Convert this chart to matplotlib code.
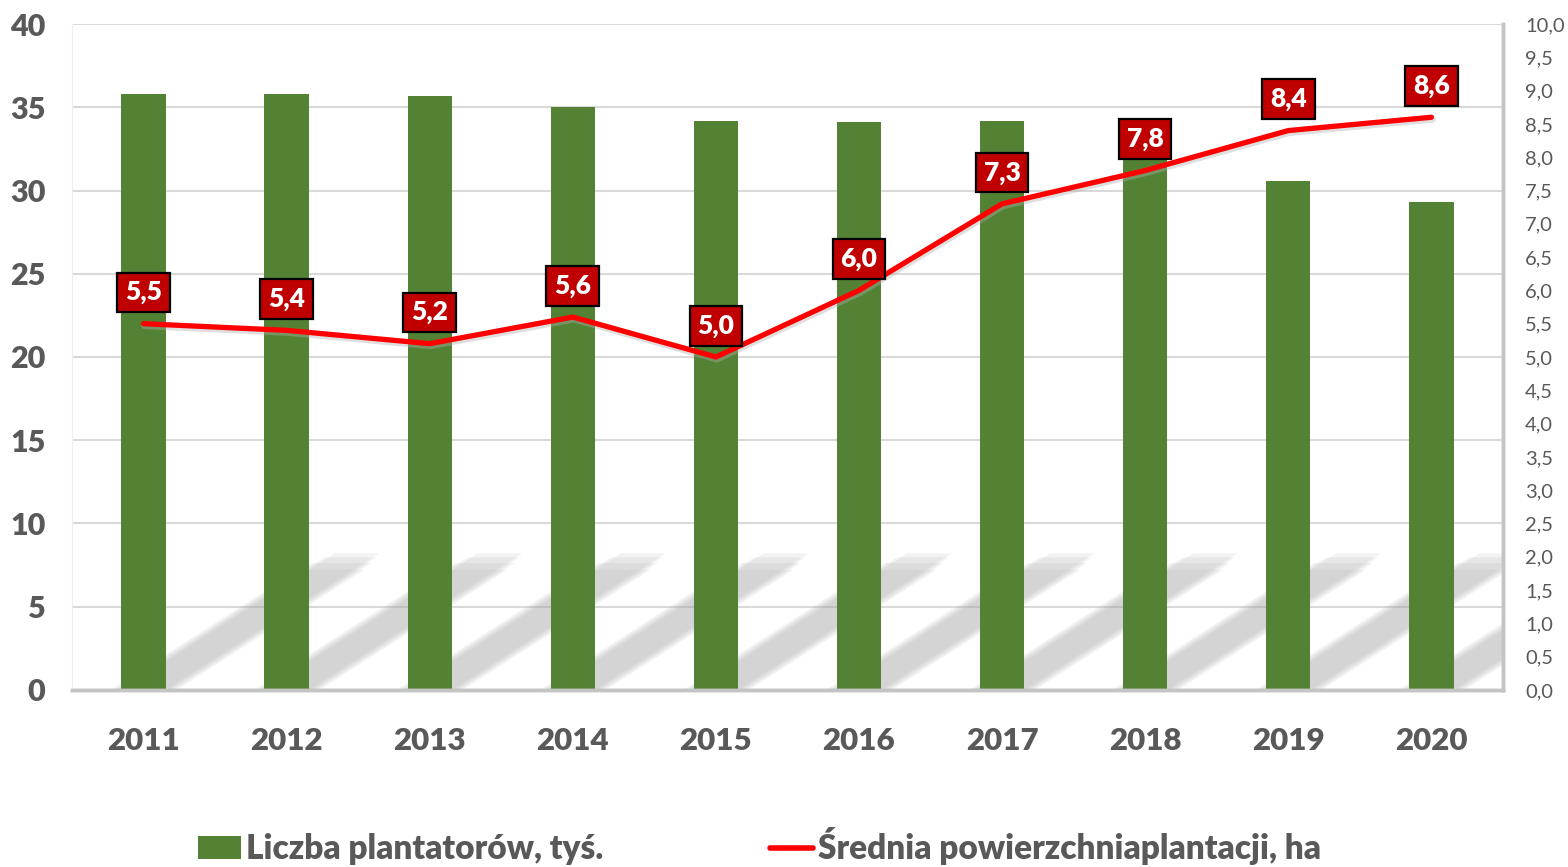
import numpy as np
import matplotlib.pyplot as plt
import matplotlib.transforms as mtransforms
from matplotlib.patches import Polygon, Patch
from matplotlib.lines import Line2D

plt.rcParams["font.family"] = ["Lato", "DejaVu Sans"]

# data
years = ["2011", "2012", "2013", "2014", "2015", "2016", "2017", "2018", "2019", "2020"]
growers = [35.8, 35.8, 35.7, 35.0, 34.2, 34.1, 34.2, 32.0, 30.6, 29.3]   # thousands
avg_area = [5.5, 5.4, 5.2, 5.6, 5.0, 6.0, 7.3, 7.8, 8.4, 8.6]          # ha

GREEN = "#548235"
RED = "#ff0000"
LABEL_RED = "#c00000"
GRAY_TXT = "#595959"

fig = plt.figure(figsize=(15.68, 8.67), dpi=100)
ax = fig.add_axes([0.0459, 0.2042, 0.9126, 0.7681])
ax2 = ax.twinx()

x = np.arange(len(years))
BAR_W = 0.31

# soft diagonal shadow behind each bar: stacked translucent layers,
# wider ones reach a bit less far so the edges look blurred
SH_DX, SH_H = 1.49, 8.2
layers = [(0.0, 1.0), (0.025, 0.97), (0.05, 0.93), (0.075, 0.88)]  # (side grow, reach)
for xi in x:
    for e, r in layers:
        poly = Polygon([(xi - BAR_W / 2 - e, 0),
                        (xi + BAR_W / 2 + e, 0),
                        (xi + BAR_W / 2 + e + SH_DX * r, SH_H * r),
                        (xi - BAR_W / 2 - e + SH_DX * r, SH_H * r)],
                       closed=True, fc="#a8a8a8", ec="none",
                       alpha=0.15, zorder=1)
        ax.add_patch(poly)

ax.bar(x, growers, width=BAR_W, color=GREEN, zorder=2)

ax.set_xlim(-0.5, len(years) - 0.5)
ax.set_ylim(0, 40)
ax.set_yticks(range(0, 41, 5))
ax.yaxis.grid(True, color="#d9d9d9", lw=1.5, zorder=0)
ax.set_axisbelow(True)
ax.set_xticks(x)
ax.set_xticklabels(years)
ax.tick_params(axis="x", length=0, pad=27, labelsize=22.5, labelcolor=GRAY_TXT)
ax.tick_params(axis="y", length=0, pad=19, labelsize=22, labelcolor=GRAY_TXT)
for lab in ax.get_xticklabels() + ax.get_yticklabels():
    lab.set_fontweight("heavy")

for a in (ax, ax2):
    a.spines["top"].set_visible(False)
    a.spines["left"].set_color("#eeeeee")
    a.spines["bottom"].set_color("#c4c4c4")
    a.spines["bottom"].set_linewidth(2.5)
    a.spines["right"].set_color("#c4c4c4")
    a.spines["right"].set_linewidth(2.5)

ax2.set_ylim(0, 10)
ax2.set_yticks(np.arange(0, 10.01, 0.5))
ax2.set_yticklabels([f"{v:.1f}".replace(".", ",") for v in np.arange(0, 10.01, 0.5)])
ax2.tick_params(axis="y", length=0, pad=16, labelsize=14.5, labelcolor=GRAY_TXT)

shadow_tr = ax2.transData + mtransforms.ScaledTranslation(1 / 100, -2 / 100, fig.dpi_scale_trans)
ax2.plot(x, avg_area, color="#b0b0b0", lw=5, alpha=0.4, zorder=2,
         solid_capstyle="round", transform=shadow_tr)
ax2.plot(x, avg_area, color=RED, lw=3.8, zorder=3,
         solid_capstyle="round", solid_joinstyle="round")

for xi, v in zip(x, avg_area):
    ax2.annotate(f"{v:.1f}".replace(".", ","), (xi, v), xytext=(0, 22.5),
                 textcoords="offset points", ha="center", va="center",
                 color="white", fontsize=19, fontweight="heavy", zorder=5,
                 bbox=dict(boxstyle="square,pad=0.3", fc=LABEL_RED,
                           ec="black", lw=1.6))

handles = [Patch(fc=GREEN, ec="none"),
           Line2D([0], [0], color=RED, lw=4, solid_capstyle="round")]
leg = fig.legend(handles, ["Liczba plantatorów, tyś.", "Średnia powierzchniaplantacji, ha"],
                 loc="center left", bbox_to_anchor=(0.107, 0.024), ncol=2,
                 frameon=False, handlelength=1.3, handleheight=0.7,
                 handletextpad=0.15, columnspacing=5.0,
                 prop=dict(size=24, weight="heavy"))
for t in leg.get_texts():
    t.set_color(GRAY_TXT)

fig.savefig("out.png", dpi=100)
